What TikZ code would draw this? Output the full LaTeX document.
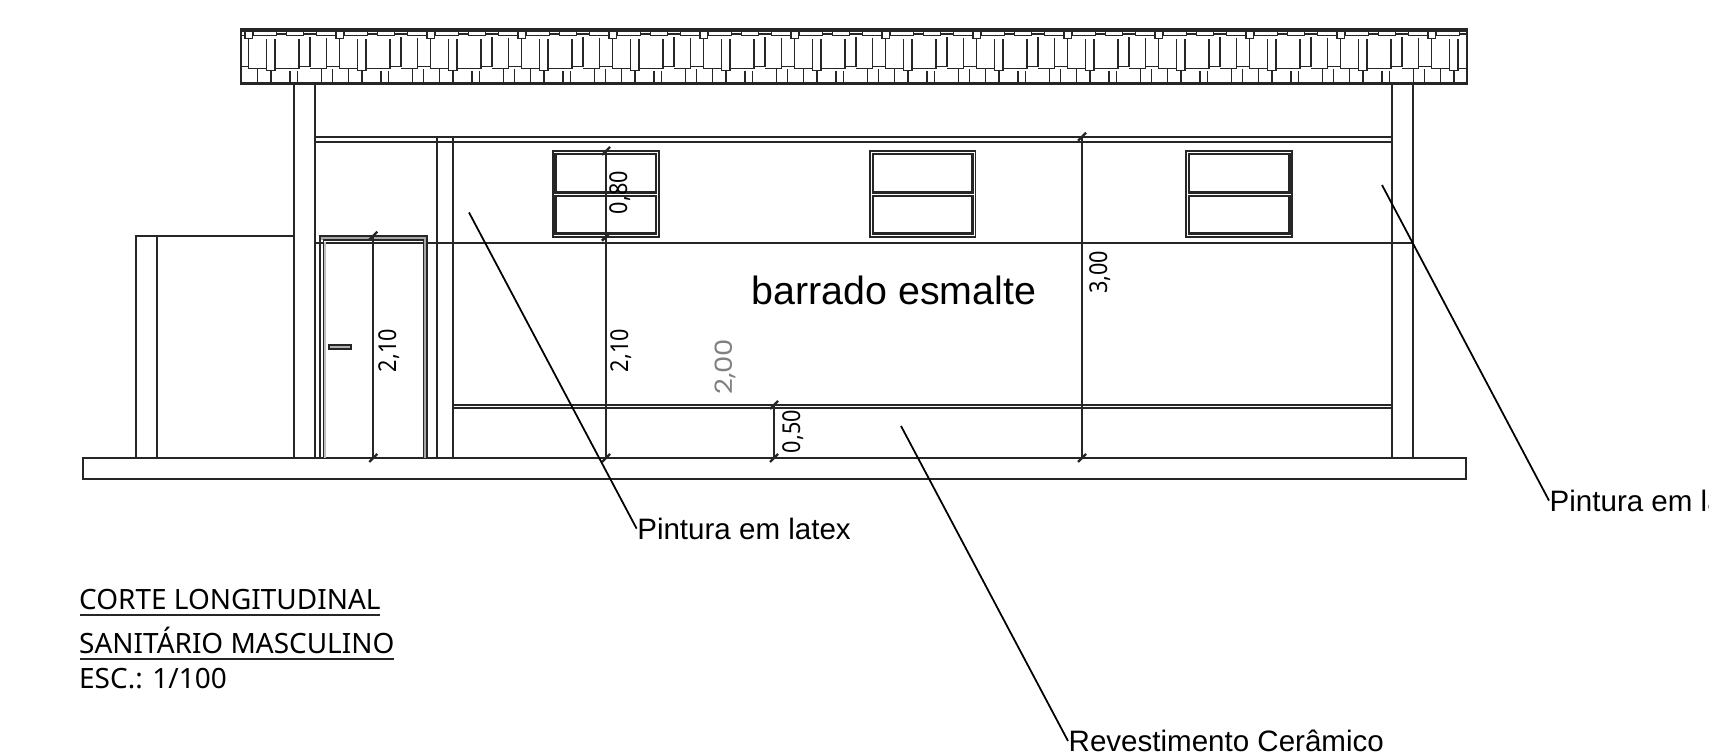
\documentclass[tikz,border=0pt]{standalone}
\usepackage{fontspec}
\setmainfont{Liberation Sans}
\newfontfamily\dimfont{Noto Sans}
\newfontfamily\cotafont[FakeStretch=0.88]{Noto Sans}
\newfontfamily\greyfont[FakeStretch=1.15]{Poppins}

\tikzset{
    wall/.style={line width=0.55pt,black!85},
    frame/.style={line width=0.55pt,black!85,fill=black!30},
    leader/.style={line width=0.5pt,black},
    dimtext/.style={font=\cotafont\fontsize{7}{8}\selectfont,rotate=90,inner sep=0pt},
    note/.style={font=\fontsize{8.4}{10}\selectfont,anchor=west,inner sep=0pt},
    title/.style={font=\dimfont\fontsize{7.95}{10}\selectfont,anchor=base west,inner sep=0pt}
}

% vertical dimension line with slanted ticks
\newcommand{\dimline}[3]{
    \draw[wall] (#1,#2) -- (#1,#3);
    \draw[wall,line width=0.65pt] (#1-4,#2+4) -- (#1+4,#2-4);
    \draw[wall,line width=0.65pt] (#1-4,#3+4) -- (#1+4,#3-4);
}

% window with two panes
\newcommand{\janela}[2]{
    \draw[wall] (#1,151) rectangle (#2,236.7);
    \draw[wall,line width=0.7pt] (#1+3,154) rectangle (#2-3,192.5);
    \draw[wall,line width=0.7pt] (#1+3,196) rectangle (#2-3,233.7);
}

\begin{document}
\begin{tikzpicture}[x=0.01cm,y=-0.01cm]
    \useasboundingbox (0,0) rectangle (1709,752);

    % Roof
    \begin{scope}
        \clip (241,29.5) rectangle (1467,83.5);
        \foreach \k in {-1,...,13} {
            \begin{scope}[shift={(91*\k,0)}]
                % top row
                \draw[wall] (245,31) rectangle (252.5,38.5);
                \draw[wall] (253,31.5) rectangle (276.5,35.5);
                \draw[wall] (276.5,31.5) -- (286.5,31.5);
                \draw[wall] (276.5,34) -- (286.5,34);
                \draw[wall] (286.5,31.5) rectangle (303.5,35.5);
                \draw[wall] (303.5,31.5) -- (316.5,31.5);
                \draw[wall] (303.5,34) -- (316.5,34);
                \draw[wall] (316.5,31.5) rectangle (336,35.5);
                % middle row
                \draw[wall] (248.5,39) -- (248.5,68.5) -- (266.5,68.5) -- (266.5,39);
                \draw[wall] (266.5,68.5) -- (266.5,70.5) -- (275,70.5) -- (275,39);
                \draw[wall] (275,68.5) -- (299,68.5) -- (299,39);
                \draw[wall] (299,66.5) -- (310,66.5) -- (310,37);
                \draw[wall] (310,68.5) -- (326.5,68.5) -- (326.5,38);
                \draw[wall] (326.5,66.5) -- (339.5,66.5);
                % bottom row
                \draw[wall] (257.5,69) -- (257.5,83.5);
                \draw[wall] (271,71) -- (271,83.5);
                \draw[wall] (290,71) -- (290,83.5);
                \draw[wall] (297.5,71) -- (297.5,83.5);
                \draw[wall] (321.5,69) -- (321.5,83.5);
                \draw[wall] (332.5,69) -- (332.5,83.5);
            \end{scope}
        }
    \end{scope}
    \draw[wall,line width=0.7pt] (241,29.5) rectangle (1467,83.5);

    % Columns and beam
    \draw[wall] (294.3,83.5) -- (294.3,458);
    \draw[wall] (315.3,83.5) -- (315.3,458);
    \draw[wall] (1392,83.5) -- (1392,458);
    \draw[wall] (1413,83.5) -- (1413,458);
    \draw[wall] (315.3,136.7) -- (1392,136.7);
    \draw[wall] (315.3,141.7) -- (1392,141.7);
    \draw[wall] (436.7,136.7) -- (436.7,458);
    \draw[wall] (452.7,136.7) -- (452.7,458);

    % Wall lines
    \draw[wall] (315.3,243) -- (1413,243);
    \draw[wall] (452.7,405) -- (1392,405);
    \draw[wall] (452.7,408) -- (1392,408);

    % Low wall on the left
    \draw[wall] (136,458) -- (136,235.7) -- (294.3,235.7);
    \draw[wall] (157.3,235.7) -- (157.3,458);

    % Floor
    \draw[wall,line width=0.7pt] (83,458) rectangle (1466,479);

    % Door
    \fill[black!35] (320,235.7) rectangle (426.7,240);
    \fill[black!35] (423.5,240) rectangle (426.7,458);
    \draw[wall] (320,458) -- (320,235.7) -- (426.7,235.7) -- (426.7,458);
    \draw[wall] (323.5,458) -- (323.5,240) -- (423.5,240) -- (423.5,458);
    \draw[black!25,line width=0.5pt] (325.3,458) -- (325.3,242);
    \draw[frame] (329.3,345) rectangle (350.7,349);

    % Windows
    \janela{552.7}{659}
    \janela{870}{975.5}
    \janela{1186}{1292.3}

    % Dimensions
    \dimline{373.3}{235.7}{458}
    \dimline{606}{151}{236.7}
    \dimline{606}{236.7}{458}
    \dimline{774}{405}{458}
    \dimline{1082}{136.7}{458}
    \node[dimtext] (cotaporta) at (389,350.6) {2,10};
    \node[dimtext] (cotajanela) at (620,192.7) {0,80};
    \node[dimtext] (cotaparede) at (621,350.7) {2,10};
    \node[dimtext] (cotabarra) at (793,431.7) {0,50};
    \node[dimtext] (cotatotal) at (1100.5,272.5) {3,00};
    \node[font=\greyfont\fontsize{6.8}{9}\selectfont,text=black!50,rotate=90,inner sep=0pt] (cotacinza) at (725,366.7) {2,00};

    % Wall text
    \node[font=\fontsize{11.2}{13}\selectfont,inner sep=0pt] (barrado) at (894,290) {barrado esmalte};

    % Leaders
    \node[note] (pintura) at (636.6,528.6) {Pintura em latex};
    \node[note] (pinturadir) at (1549,500.6) {Pintura em latex};
    \node[note] (revest) at (1068,741) {Revestimento Cerâmico};
    \coordinate (a) at (469,212.5);
    \coordinate (b) at (1382,185);
    \coordinate (c) at (901,426);
    \draw[leader] (a) -- (pintura.west);
    \draw[leader] (b) -- (pinturadir.west);
    \draw[leader] (c) -- (revest.west);

    % Title
    \node[title] (corte) at (78.5,609) {CORTE LONGITUDINAL};
    \node[title] (sanit) at (78.5,653) {SANITÁRIO MASCULINO};
    \node[title] (esc) at (78.5,688) {ESC.: 1/100};
    \draw[wall] (80,615) -- (380,615);
    \draw[wall] (80,658.7) -- (394,658.7);
\end{tikzpicture}
\end{document}
